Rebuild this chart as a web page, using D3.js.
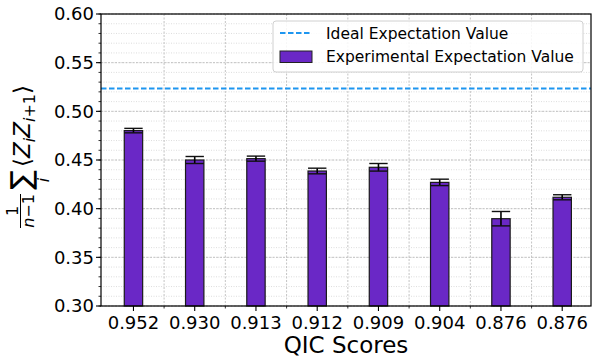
<!DOCTYPE html>
<html><head>
<meta charset="utf-8">
<script src="https://d3js.org/d3.v7.min.js"></script>
<style>
  body { margin: 0; background: #fff; }
  text { font-family: "DejaVu Sans", sans-serif; }
</style>
</head>
<body>
<svg id="chart" width="598" height="361"></svg>
<script>
// data
let qicLabels = ["0.952", "0.930", "0.913", "0.912", "0.909", "0.904", "0.876", "0.876"];
let expValues = [0.4802, 0.4500, 0.4514, 0.4387, 0.4425, 0.4270, 0.3897, 0.4117];
let expErrors = [0.0023, 0.0036, 0.0026, 0.0029, 0.0039, 0.0033, 0.0074, 0.0026];
let idealValue = 0.5235;
let yTicks = [0.30, 0.35, 0.40, 0.45, 0.50, 0.55, 0.60];

let svg = d3.select("#chart");
let plotL = 101, plotR = 591, plotT = 14, plotB = 306;

let xScale = d3.scaleLinear().domain([-0.53, 7.47]).range([plotL, plotR]);
let yScale = d3.scaleLinear().domain([0.30, 0.60]).range([plotB, plotT]);
let barW = xScale(0.3) - xScale(0);

// grid - minor horizontal (every 0.01)
let grid = svg.append("g");
d3.range(0.30, 0.6001, 0.01).forEach(function(v) {
  grid.append("line")
    .attr("x1", plotL).attr("x2", plotR)
    .attr("y1", yScale(v)).attr("y2", yScale(v))
    .style("stroke", "#d4d4d4").style("stroke-width", 0.8)
    .style("stroke-dasharray", "1,1.5");
});
// major horizontal
yTicks.forEach(function(v) {
  grid.append("line")
    .attr("x1", plotL).attr("x2", plotR)
    .attr("y1", yScale(v)).attr("y2", yScale(v))
    .style("stroke", "#bdbdbd").style("stroke-width", 0.9)
    .style("stroke-dasharray", "2,1.5");
});
// vertical (between the bars)
d3.range(0.5, 7, 1).forEach(function(v) {
  grid.append("line")
    .attr("x1", xScale(v)).attr("x2", xScale(v))
    .attr("y1", plotT).attr("y2", plotB)
    .style("stroke", "#bdbdbd").style("stroke-width", 0.9)
    .style("stroke-dasharray", "2,1.5");
});

// ideal line
svg.append("line")
  .attr("x1", plotL).attr("x2", plotR)
  .attr("y1", yScale(idealValue)).attr("y2", yScale(idealValue))
  .style("stroke", "#1e96f0").style("stroke-width", 2)
  .style("stroke-dasharray", "5.5,2.5");

// bars
let bars = svg.append("g");
expValues.forEach(function(v, i) {
  bars.append("rect")
    .attr("x", xScale(i) - barW / 2)
    .attr("y", yScale(v))
    .attr("width", barW)
    .attr("height", yScale(0.30) - yScale(v))
    .style("fill", "#6a28c6")
    .style("stroke", "#1a1a1a").style("stroke-width", 1.2);
});

// error bars
expValues.forEach(function(v, i) {
  let e = expErrors[i];
  let cx = xScale(i);
  bars.append("line")
    .attr("x1", cx).attr("x2", cx)
    .attr("y1", yScale(v - e)).attr("y2", yScale(v + e))
    .style("stroke", "#000").style("stroke-width", 1.6);
  [v - e, v + e].forEach(function(c) {
    bars.append("line")
      .attr("x1", cx - barW / 2).attr("x2", cx + barW / 2)
      .attr("y1", yScale(c)).attr("y2", yScale(c))
      .style("stroke", "#111").style("stroke-width", 1.4);
  });
});

// spines
svg.append("rect")
  .attr("x", plotL).attr("y", plotT)
  .attr("width", plotR - plotL).attr("height", plotB - plotT)
  .style("fill", "none").style("stroke", "#000").style("stroke-width", 1.2);

// y ticks
let yAxis = svg.append("g");
d3.range(0.30, 0.6001, 0.01).forEach(function(v) {
  yAxis.append("line")
    .attr("x1", plotL - 2.5).attr("x2", plotL)
    .attr("y1", yScale(v)).attr("y2", yScale(v))
    .style("stroke", "#000").style("stroke-width", 0.8);
});
yTicks.forEach(function(v) {
  yAxis.append("line")
    .attr("x1", plotL - 5).attr("x2", plotL)
    .attr("y1", yScale(v)).attr("y2", yScale(v))
    .style("stroke", "#000").style("stroke-width", 1.1);
  yAxis.append("text")
    .attr("x", plotL - 7).attr("y", yScale(v))
    .attr("dy", "0.36em")
    .attr("text-anchor", "end")
    .style("font-size", "18px")
    .text(v.toFixed(2));
});

// x ticks
let xAxis = svg.append("g");
qicLabels.forEach(function(d, i) {
  xAxis.append("line")
    .attr("x1", xScale(i)).attr("x2", xScale(i))
    .attr("y1", plotB).attr("y2", plotB + 5)
    .style("stroke", "#000").style("stroke-width", 1.1);
  xAxis.append("text")
    .attr("x", xScale(i)).attr("y", plotB + 23)
    .attr("text-anchor", "middle")
    .style("font-size", "18px")
    .text(d);
});
d3.range(0.5, 7, 1).forEach(function(v) {
  xAxis.append("line")
    .attr("x1", xScale(v)).attr("x2", xScale(v))
    .attr("y1", plotB).attr("y2", plotB + 2.5)
    .style("stroke", "#000").style("stroke-width", 0.8);
});

svg.append("text")
  .attr("x", (plotL + plotR) / 2).attr("y", 353)
  .attr("text-anchor", "middle")
  .style("font-size", "23px")
  .text("QIC Scores");

// y label: 1/(n-1) sum_i <Z_i Z_{i+1}>, rotated
let yl = svg.append("g").attr("transform", "rotate(-90)");
// fraction
yl.append("text").attr("x", -211).attr("y", 18)
  .attr("text-anchor", "middle").style("font-size", "16px").text("1");
yl.append("line").attr("x1", -228).attr("x2", -194)
  .attr("y1", 20.5).attr("y2", 20.5)
  .style("stroke", "#000").style("stroke-width", 1);
let den = yl.append("text").attr("x", -211).attr("y", 34)
  .attr("text-anchor", "middle").style("font-size", "16px");
den.append("tspan").style("font-style", "italic").text("n");
den.append("tspan").text("\u22121");
// sum
yl.append("text").attr("x", -180).attr("y", 31)
  .attr("text-anchor", "middle").style("font-size", "29px").text("\u2211");
yl.append("text").attr("x", -180).attr("y", 49)
  .attr("text-anchor", "middle").style("font-size", "16px")
  .style("font-style", "italic").text("i");
// bracket term
let br = yl.append("text").attr("x", -167).attr("y", 30)
  .style("font-size", "23px");
br.append("tspan").text("\u27E8");
br.append("tspan").style("font-style", "italic").text("Z");
br.append("tspan").style("font-style", "italic").style("font-size", "16px").attr("dy", 5).text("i");
br.append("tspan").style("font-style", "italic").attr("dy", -5).text("Z");
br.append("tspan").style("font-style", "italic").style("font-size", "16px").attr("dy", 5).text("i");
br.append("tspan").style("font-size", "16px").text("+1");
br.append("tspan").attr("dy", -5).text("\u27E9");

// legend
let lg = svg.append("g");
lg.append("rect")
  .attr("x", 273).attr("y", 21).attr("width", 310).attr("height", 51)
  .attr("rx", 3)
  .style("fill", "#fff").style("fill-opacity", 0.85)
  .style("stroke", "#d0d0d0").style("stroke-width", 1);
lg.append("line")
  .attr("x1", 280).attr("x2", 312).attr("y1", 33).attr("y2", 33)
  .style("stroke", "#1e96f0").style("stroke-width", 2)
  .style("stroke-dasharray", "5.5,2.5");
lg.append("text").attr("x", 326).attr("y", 39)
  .style("font-size", "15.5px").text("Ideal Expectation Value");
lg.append("rect")
  .attr("x", 280).attr("y", 51).attr("width", 32).attr("height", 11.5)
  .style("fill", "#6a28c6").style("stroke", "#222").style("stroke-width", 1);
lg.append("text").attr("x", 326).attr("y", 62)
  .style("font-size", "15.5px").text("Experimental Expectation Value");
</script>
</body>
</html>
